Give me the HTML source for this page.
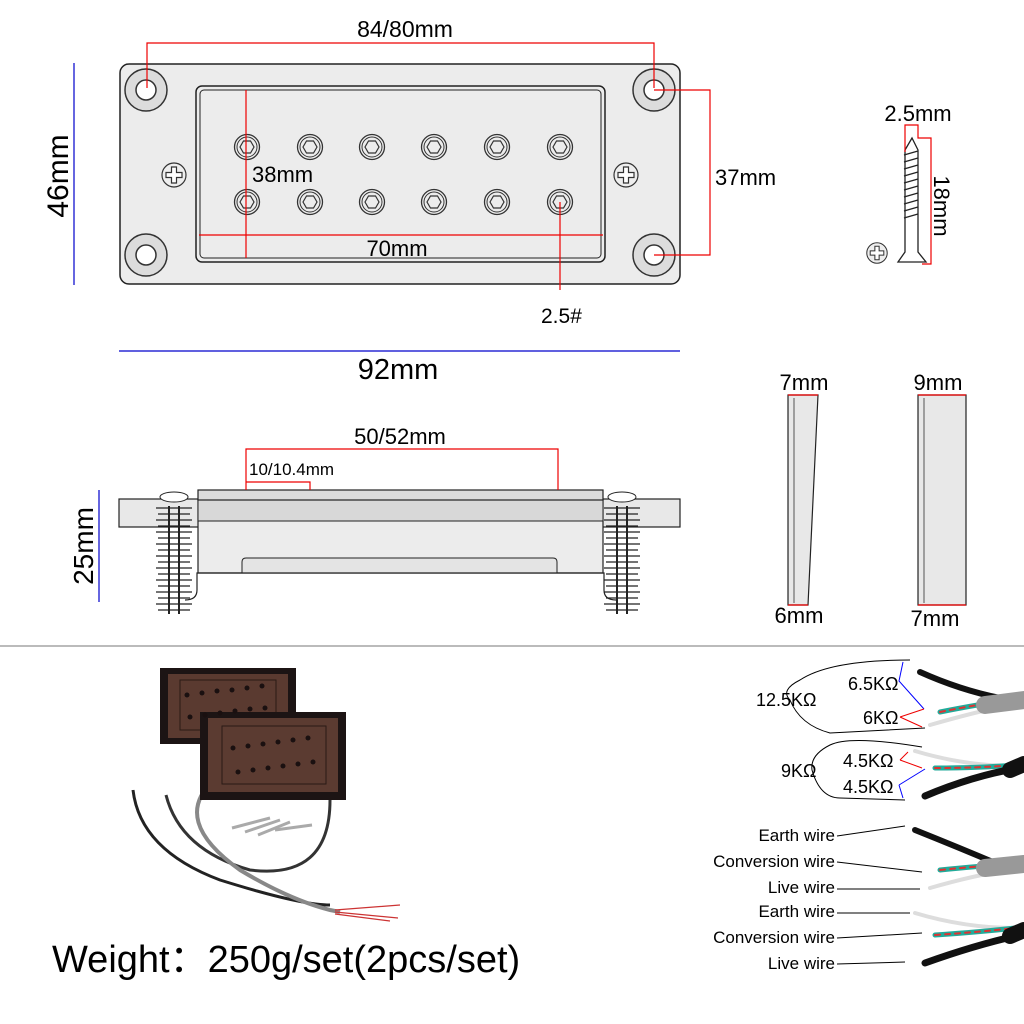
<!DOCTYPE html>
<html><head><meta charset="utf-8"><style>
html,body{margin:0;padding:0;background:#fff;}
svg{display:block;font-family:"Liberation Sans","DejaVu Sans",sans-serif;}
</style></head><body>
<svg width="1024" height="1024" viewBox="0 0 1024 1024" xmlns="http://www.w3.org/2000/svg">
<defs>
<g id="hole"><circle r="21" fill="#dcdcdc" stroke="#333" stroke-width="1.5"/><circle r="10" fill="#fff" stroke="#333" stroke-width="1.5"/></g>
<g id="plus"><circle r="12" fill="#eee" stroke="#333" stroke-width="1.2"/><path d="M-2.5,-8h5v5.5h5.5v5h-5.5v5.5h-5v-5.5h-5.5v-5h5.5z" fill="#fff" stroke="#333" stroke-width="1.2"/></g>
<g id="pole"><circle r="12.5" fill="none" stroke="#333" stroke-width="1.3"/><circle r="10" fill="none" stroke="#333" stroke-width="1"/><polygon points="-7,0 -3.5,-6 3.5,-6 7,0 3.5,6 -3.5,6" fill="none" stroke="#333" stroke-width="1.2"/></g>
<g id="spring" stroke="#222" stroke-width="1.3" fill="none">
<path d="M-18,0 h36 M-16,6 h32 M-18,12 h36 M-16,18 h32 M-18,24 h36 M-16,30 h32 M-18,36 h36 M-16,42 h32 M-18,48 h36 M-16,54 h32 M-18,60 h36 M-16,66 h32 M-18,72 h36 M-16,78 h32 M-18,84 h36 M-16,90 h32 M-18,96 h36 M-16,102 h32"/>
<path d="M-5,-2 v108 M5,-2 v108" stroke-width="2"/>
</g>
</defs>

<!-- TOP VIEW -->
<rect x="120" y="64" width="560" height="220" rx="9" fill="#ececec" stroke="#222" stroke-width="1.5"/>
<rect x="196" y="86" width="409" height="176" rx="6" fill="#ececec" stroke="#222" stroke-width="1.5"/>
<rect x="200" y="90" width="401" height="168" rx="4" fill="none" stroke="#222" stroke-width="1"/>
<use href="#hole" x="146" y="90"/><use href="#hole" x="654" y="90"/>
<use href="#hole" x="146" y="255"/><use href="#hole" x="654" y="255"/>
<use href="#plus" x="174" y="175"/><use href="#plus" x="626" y="175"/>
<g>
<use href="#pole" x="247" y="147"/><use href="#pole" x="310" y="147"/><use href="#pole" x="372" y="147"/><use href="#pole" x="434" y="147"/><use href="#pole" x="497" y="147"/><use href="#pole" x="560" y="147"/>
<use href="#pole" x="247" y="202"/><use href="#pole" x="310" y="202"/><use href="#pole" x="372" y="202"/><use href="#pole" x="434" y="202"/><use href="#pole" x="497" y="202"/><use href="#pole" x="560" y="202"/>
</g>
<g stroke="#e00" stroke-width="1.2" fill="none">
<path d="M147,88 V43 H654 V88"/>
<path d="M246,90 V258"/>
<path d="M199,235 H603"/>
<path d="M654,90 H710 V255 H654"/>
<path d="M560,202 V290"/>
</g>
<text x="405" y="37" font-size="23" text-anchor="middle">84/80mm</text>
<text x="252" y="182" font-size="22">38mm</text>
<text x="397" y="256" font-size="22" text-anchor="middle">70mm</text>
<text x="715" y="185" font-size="22">37mm</text>
<text x="541" y="323" font-size="21">2.5#</text>
<line x1="74" y1="63" x2="74" y2="285" stroke="#00c" stroke-width="1.2"/>
<text transform="translate(68,176) rotate(-90)" font-size="30" text-anchor="middle">46mm</text>
<line x1="119" y1="351" x2="680" y2="351" stroke="#00c" stroke-width="1.2"/>
<text x="398" y="379" font-size="29" text-anchor="middle">92mm</text>

<!-- SCREW -->
<g stroke="#222" stroke-width="1.3" fill="#fff">
<path d="M905,150 L912,138 L918,150 V252 L926,262 H898 L905,252 Z"/>
<path d="M904,155 l14,-4 M904,162 l14,-4 M904,169 l14,-4 M904,176 l14,-4 M904,183 l14,-4 M904,190 l14,-4 M904,197 l14,-4 M904,204 l14,-4 M904,211 l14,-4 M904,218 l14,-4" fill="none"/>
</g>
<path d="M905,152 V125 H918 V138 H931 V264 H922" stroke="#e00" stroke-width="1.2" fill="none"/>
<text x="918" y="121" font-size="22" text-anchor="middle">2.5mm</text>
<text transform="translate(934,206) rotate(90)" font-size="22" text-anchor="middle">18mm</text>
<use href="#plus" x="877" y="253" transform="translate(877,253) scale(0.85) translate(-877,-253)"/>

<!-- SIDE VIEW -->
<rect x="119" y="499" width="561" height="28" fill="#e8e8e8" stroke="#222" stroke-width="1.2"/>
<rect x="198" y="500" width="405" height="73" fill="#ececec" stroke="#222" stroke-width="1.2"/>
<rect x="198" y="500" width="405" height="21" fill="#d8d8d8" stroke="#222" stroke-width="1"/>
<rect x="198" y="490" width="405" height="10" fill="#dcdcdc" stroke="#222" stroke-width="1.2"/>
<path d="M242,573 V562 Q242,558 246,558 H553 Q557,558 557,562 V573" fill="#e4e4e4" stroke="#222" stroke-width="1"/>
<path d="M185,600 Q197,600 197,590 V573 H604 V590 Q604,600 616,600" fill="none" stroke="#222" stroke-width="1.2"/>
<use href="#spring" x="174" y="508"/>
<use href="#spring" x="622" y="508"/>
<ellipse cx="174" cy="497" rx="14" ry="5" fill="#fff" stroke="#222"/>
<ellipse cx="622" cy="497" rx="14" ry="5" fill="#fff" stroke="#222"/>
<g stroke="#e00" stroke-width="1.2" fill="none">
<path d="M246,490 V449 H558 V490"/>
<path d="M246,482 H310 V490"/>
</g>
<text x="400" y="444" font-size="22" text-anchor="middle">50/52mm</text>
<text x="249" y="475" font-size="17">10/10.4mm</text>
<line x1="99" y1="490" x2="99" y2="602" stroke="#00c" stroke-width="1.2"/>
<text transform="translate(93,546) rotate(-90)" font-size="28" text-anchor="middle">25mm</text>

<!-- WEDGES -->
<path d="M788,395 H818 L808,605 H788 Z" fill="#e8e8e8" stroke="#222" stroke-width="1.2"/>
<line x1="794" y1="398" x2="794" y2="603" stroke="#555"/>
<path d="M918,395 H966 V605 H918 Z" fill="#e8e8e8" stroke="#222" stroke-width="1.2"/>
<line x1="924" y1="398" x2="924" y2="603" stroke="#555"/>
<g stroke="#e00" stroke-width="1.2"><line x1="788" y1="395" x2="818" y2="395"/><line x1="788" y1="605" x2="808" y2="605"/><line x1="918" y1="395" x2="966" y2="395"/><line x1="918" y1="605" x2="966" y2="605"/></g>
<text x="804" y="390" font-size="22" text-anchor="middle">7mm</text>
<text x="799" y="623" font-size="22" text-anchor="middle">6mm</text>
<text x="938" y="390" font-size="22" text-anchor="middle">9mm</text>
<text x="935" y="626" font-size="22" text-anchor="middle">7mm</text>

<line x1="0" y1="646" x2="1024" y2="646" stroke="#777" stroke-width="1"/>

<!-- PHOTO -->
<path d="M166,795 Q180,850 250,870 Q330,880 330,800 L332,790" fill="none" stroke="#333" stroke-width="3"/>
<path d="M133,790 Q140,850 220,880 Q300,905 330,905" fill="none" stroke="#222" stroke-width="3"/>
<path d="M214,780 Q170,820 240,870 Q290,900 330,910 L340,912" fill="none" stroke="#888" stroke-width="4"/>
<path d="M335,910 L400,905 M335,912 L398,918 M335,914 L390,921" stroke="#c33" stroke-width="1.2"/>
<g transform="translate(160,668)">
<rect width="136" height="76" fill="#1c1414"/><rect x="8" y="6" width="120" height="64" fill="#5a3a30"/>
<rect x="20" y="12" width="96" height="50" fill="none" stroke="#2a1a15"/>
</g>
<g transform="translate(200,712)">
<rect width="146" height="88" fill="#1c1414"/><rect x="8" y="6" width="130" height="74" fill="#5b3b31"/>
<rect x="22" y="14" width="104" height="58" fill="none" stroke="#2a1a15"/>
</g>
<g fill="#1a1010">
<circle cx="187" cy="695" r="2.5"/><circle cx="202" cy="693" r="2.5"/><circle cx="217" cy="691" r="2.5"/><circle cx="232" cy="690" r="2.5"/><circle cx="247" cy="688" r="2.5"/><circle cx="262" cy="686" r="2.5"/>
<circle cx="190" cy="717" r="2.5"/><circle cx="205" cy="715" r="2.5"/><circle cx="220" cy="713" r="2.5"/><circle cx="235" cy="711" r="2.5"/><circle cx="250" cy="709" r="2.5"/><circle cx="265" cy="708" r="2.5"/>
<circle cx="233" cy="748" r="2.5"/><circle cx="248" cy="746" r="2.5"/><circle cx="263" cy="744" r="2.5"/><circle cx="278" cy="742" r="2.5"/><circle cx="293" cy="740" r="2.5"/><circle cx="308" cy="738" r="2.5"/>
<circle cx="238" cy="772" r="2.5"/><circle cx="253" cy="770" r="2.5"/><circle cx="268" cy="768" r="2.5"/><circle cx="283" cy="766" r="2.5"/><circle cx="298" cy="764" r="2.5"/><circle cx="313" cy="762" r="2.5"/>
</g>
<g stroke="#aaa" stroke-width="3"><line x1="232" y1="828" x2="270" y2="818"/><line x1="245" y1="832" x2="280" y2="820"/><line x1="258" y1="835" x2="290" y2="822"/><line x1="275" y1="830" x2="312" y2="825"/></g>
<text x="52" y="972" font-size="38">Weight：250g/set(2pcs/set)</text>

<!-- WIRES -->
<g fill="none" stroke-linecap="round">
<path d="M920,672 Q960,690 1000,698" stroke="#111" stroke-width="6"/>
<path d="M940,712 Q980,704 1010,700" stroke="#2a9" stroke-width="5"/>
<path d="M940,712 Q980,704 1010,700" stroke="#d33" stroke-width="2" stroke-dasharray="5 5"/>
<path d="M930,725 Q975,712 1010,705" stroke="#ddd" stroke-width="4"/>
<path d="M985,705 L1024,700" stroke="#999" stroke-width="18"/>
<path d="M915,751 Q965,766 1015,766" stroke="#ddd" stroke-width="4"/>
<path d="M935,768 Q980,768 1015,765" stroke="#2a9" stroke-width="5"/>
<path d="M935,768 Q980,768 1015,765" stroke="#d33" stroke-width="2" stroke-dasharray="5 5"/>
<path d="M925,796 Q975,775 1020,768" stroke="#111" stroke-width="7"/>
<path d="M1010,770 L1024,764" stroke="#111" stroke-width="16"/>
<path d="M915,830 Q960,848 1000,865" stroke="#111" stroke-width="6"/>
<path d="M940,870 Q980,866 1010,864" stroke="#2a9" stroke-width="5"/>
<path d="M940,870 Q980,866 1010,864" stroke="#d33" stroke-width="2" stroke-dasharray="5 5"/>
<path d="M930,888 Q975,875 1010,870" stroke="#ddd" stroke-width="4"/>
<path d="M985,868 L1024,864" stroke="#999" stroke-width="18"/>
<path d="M915,913 Q965,928 1015,928" stroke="#ddd" stroke-width="4"/>
<path d="M935,935 Q980,932 1015,928" stroke="#2a9" stroke-width="5"/>
<path d="M935,935 Q980,932 1015,928" stroke="#d33" stroke-width="2" stroke-dasharray="5 5"/>
<path d="M925,963 Q975,945 1020,935" stroke="#111" stroke-width="7"/>
<path d="M1010,936 L1024,930" stroke="#111" stroke-width="16"/>
</g>
<g stroke="#000" stroke-width="1" fill="none">
<path d="M910,660 Q830,660 800,680 Q780,690 790,700 Q800,725 830,733 L925,728"/>
<path d="M922,747 Q850,735 830,745 Q810,755 812,770 Q820,798 840,798 L905,800"/>
</g>
<g stroke="#00f" stroke-width="1" fill="none"><path d="M903,662 L899,681 L924,709"/><path d="M899,785 L925,769 M899,785 L903,798"/></g>
<g stroke="#e00" stroke-width="1" fill="none"><path d="M900,717 L924,709 M900,717 L922,727"/><path d="M900,760 L908,752 M900,760 L922,768"/></g>
<text x="848" y="690" font-size="18">6.5KΩ</text>
<text x="863" y="724" font-size="18">6KΩ</text>
<text x="756" y="706" font-size="18">12.5KΩ</text>
<text x="843" y="767" font-size="18">4.5KΩ</text>
<text x="843" y="793" font-size="18">4.5KΩ</text>
<text x="781" y="777" font-size="18">9KΩ</text>
<g font-size="17" text-anchor="end">
<text x="835" y="841">Earth wire</text>
<text x="835" y="867">Conversion wire</text>
<text x="835" y="893">Live wire</text>
<text x="835" y="917">Earth wire</text>
<text x="835" y="943">Conversion wire</text>
<text x="835" y="969">Live wire</text>
</g>
<g stroke="#000" stroke-width="1">
<line x1="837" y1="836" x2="905" y2="826"/>
<line x1="837" y1="862" x2="922" y2="872"/>
<line x1="837" y1="889" x2="920" y2="889"/>
<line x1="837" y1="913" x2="910" y2="913"/>
<line x1="837" y1="938" x2="922" y2="933"/>
<line x1="837" y1="964" x2="905" y2="962"/>
</g>
</svg>
</body></html>
